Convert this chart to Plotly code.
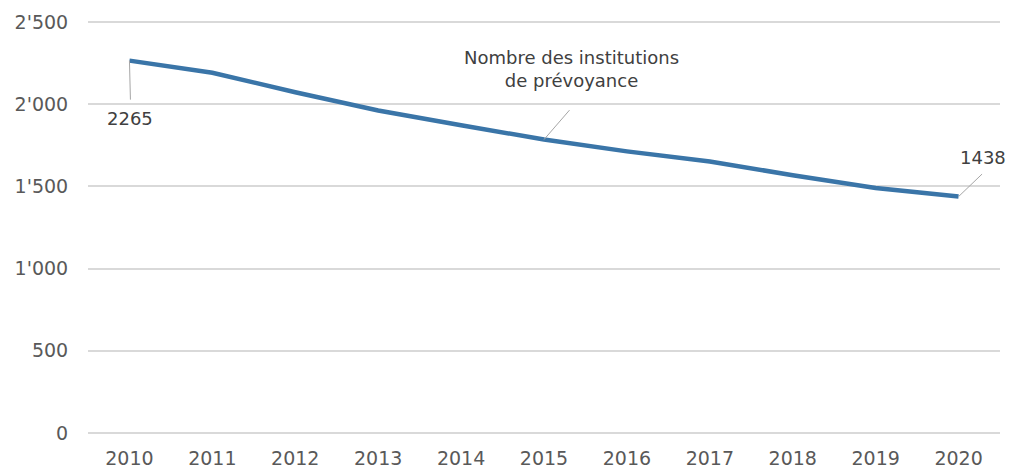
import plotly.graph_objects as go

years = ["2010", "2011", "2012", "2013", "2014", "2015", "2016", "2017", "2018", "2019", "2020"]
institutions = [2265, 2191, 2073, 1962, 1872, 1785, 1713, 1652, 1568, 1490, 1438]
y_tickvals = [0, 500, 1000, 1500, 2000, 2500]
y_ticktext = ["0", "500", "1'000", "1'500", "2'000", "2'500"]
series_label = "Nombre des institutions<br>de prévoyance"

FONT = "DejaVu Sans"
FS = 19
AFS = 18
fig = go.Figure()
fig.add_trace(go.Scatter(
    x=list(range(len(years))), y=institutions, mode="lines",
    line=dict(color="#3a75a8", width=4.5),
    hoverinfo="skip", showlegend=False,
))


def label(idx, text, leader_dx, leader_dy, text_dx, text_dy):
    # leader line (annotation with a tiny blank text at its tail)
    fig.add_annotation(x=idx, y=institutions[idx], text=" ", showarrow=True,
                       arrowhead=0, arrowwidth=1, arrowcolor="#a6a6a6",
                       ax=leader_dx, ay=leader_dy, borderpad=0,
                       font=dict(size=1))
    # text
    fig.add_annotation(x=idx, y=institutions[idx], text=text, showarrow=False,
                       xshift=text_dx, yshift=text_dy, align="center",
                       font=dict(family=FONT, size=AFS, color="#404040"))


label(0, str(institutions[0]), 1, 40, 1, -58)
label(len(years) - 1, str(institutions[-1]), 24, -23, 24, 39)
label(5, series_label, 26, -30, 27, 71)

fig.update_layout(
    width=1010, height=470,
    margin=dict(l=88, r=10, t=19, b=34),
    paper_bgcolor="white", plot_bgcolor="white",
    font=dict(family=FONT, size=FS, color="#595959"),
    xaxis=dict(range=[-0.5, 10.5], tickvals=list(range(len(years))), ticktext=years,
               showgrid=False, showline=False, zeroline=False, automargin=False,
               ticks="outside", ticklen=5, tickcolor="rgba(0,0,0,0)",
               tickfont=dict(size=FS, color="#595959")),
    yaxis=dict(range=[-18.25, 2518.25], tickvals=y_tickvals, ticktext=y_ticktext,
               showgrid=True, gridcolor="#d9d9d9", gridwidth=1.5, zeroline=False,
               showline=False, automargin=False, ticks="outside", ticklen=15,
               tickcolor="rgba(0,0,0,0)",
               tickfont=dict(size=FS, color="#595959")),
)
fig.write_html("out.html", config={"displayModeBar": False},
               post_script="document.body.style.margin='0';")
